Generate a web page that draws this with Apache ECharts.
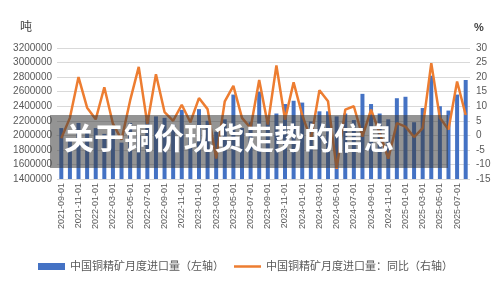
<!DOCTYPE html>
<html lang="zh">
<head>
    <meta charset="UTF-8">
    <title>中国铜精矿月度进口量</title>
    <script type="text/javascript" src="https://cdn.jsdelivr.net/npm/echarts@6/dist/echarts.min.js"></script>
    <style>
        html, body { margin: 0; padding: 0; background: #fff; }
        #main { width: 500px; height: 283px; }
    </style>
</head>
<body>
<div id="main"></div>
<script type="text/javascript">
    // 月份 2021-09 ~ 2025-08
    var months = [];
    for (var y = 2021, m = 9; months.length < 48; m++) {
        if (m > 12) { m = 1; y++; }
        months.push(y + '-' + (m < 10 ? '0' + m : m) + '-01');
    }

    // 进口量（吨）
    var importVolume = [
        2100000, 1950000, 2170000, 2050000, 2100000, 2020000, 2120000, 1900000,
        2170000, 2000000, 2230000, 2260000, 2240000, 2150000, 2350000, 1980000,
        2360000, 2200000, 2050000, 2220000, 2560000, 2100000, 2180000, 2600000,
        2210000, 2300000, 2430000, 2475000, 2450000, 2190000, 2330000, 2330000,
        2260000, 2300000, 2210000, 2570000, 2430000, 2300000, 2220000, 2510000,
        2530000, 2180000, 2375000, 2820000, 2400000, 2340000, 2560000, 2760000
    ];

    // 同比（%）
    var yoy = [
        -1, 6, 20, 9.5, 5.5, 16.5, 4, -1.5,
        12, 23.5, 4, 21, 8, 5, 10.5, 4.5,
        12.8, 9, -8, 11.7, 17, 6, 2.5, 19,
        3.7, 24, 5.4, 18.2, 7, -1.5, 15.5, 11.7,
        -11.5, 8.8, 10, -0.4, 8.8, 0.8, -8, 4.2,
        3, -0.6, 2.5, 24.8, 6, 2, 18.5, 7
    ];

    var leftTicks = { min: 1400000, max: 3200000, interval: 200000 };
    var rightTicks = { min: -15, max: 30, interval: 5 };

    var barName = '中国铜精矿月度进口量（左轴）';
    var lineName = '中国铜精矿月度进口量：同比（右轴）';

    var labelColor = '#595959';
    var fontFam = "'Liberation Sans', 'Noto Sans CJK SC', sans-serif";

    var myChart = echarts.init(document.getElementById('main'));

    var option = {
        animation: false,
        textStyle: { fontFamily: fontFam },
        grid: { left: 57, right: 30, top: 48, bottom: 104 },
        // 两个图例：柱子的色块高一点，折线的短横细一点
        legend: [{
            bottom: 6,
            left: 33,
            itemWidth: 27,
            itemHeight: 7,
            icon: 'rect',
            textStyle: { color: labelColor, fontSize: 11, fontFamily: fontFam },
            data: [barName]
        }, {
            bottom: 6,
            left: 229,
            itemWidth: 27,
            itemHeight: 2.5,
            icon: 'rect',
            textStyle: { color: labelColor, fontSize: 11, fontFamily: fontFam },
            data: [lineName]
        }],
        xAxis: {
            type: 'category',
            data: months,
            axisLine: { lineStyle: { color: '#d9d9d9' } },
            axisTick: { show: false },
            axisLabel: {
                rotate: 90,
                interval: 1,
                color: labelColor,
                fontSize: 9,
                margin: 4
            }
        },
        yAxis: [{
            type: 'value',
            min: leftTicks.min,
            max: leftTicks.max,
            interval: leftTicks.interval,
            axisLine: { show: false },
            axisTick: { show: false },
            splitLine: { lineStyle: { color: '#d9d9d9' } },
            axisLabel: {
                color: labelColor, fontSize: 10, margin: 5,
                formatter: function (v) { return String(v); }
            }
        }, {
            type: 'value',
            min: rightTicks.min,
            max: rightTicks.max,
            interval: rightTicks.interval,
            axisLine: { show: false },
            axisTick: { show: false },
            splitLine: { show: false },
            axisLabel: { color: labelColor, fontSize: 10, margin: 6 }
        }],
        series: [{
            name: barName,
            type: 'bar',
            yAxisIndex: 0,
            barWidth: 4,
            itemStyle: { color: '#4472C4' },
            data: importVolume
        }, {
            name: lineName,
            type: 'line',
            yAxisIndex: 1,
            symbol: 'none',
            lineStyle: { color: '#ED7D31', width: 2.5 },
            itemStyle: { color: '#ED7D31' },
            data: yoy
        }],
        graphic: [
            {
                type: 'text', left: 20, top: 20,
                style: { text: '吨', fill: '#404040', font: "12px 'Noto Sans CJK SC'" }
            },
            {
                type: 'text', left: 474, top: 22,
                style: { text: '%', fill: '#404040', font: "bold 11px 'Liberation Sans'" }
            },
            {
                type: 'rect', z: 100,
                shape: { x: 50, y: 115, width: 398, height: 53 },
                style: { fill: 'rgba(60,60,60,0.55)' }
            },
            {
                type: 'text', z: 101, left: 64, top: 123,
                style: {
                    text: '关于铜价现货走势的信息',
                    fill: '#ffffff',
                    font: "bold 30px 'Noto Sans CJK SC'",
                    shadowColor: 'rgba(0,0,0,0.4)',
                    shadowBlur: 2
                }
            }
        ]
    };

    myChart.setOption(option);
</script>
</body>
</html>
